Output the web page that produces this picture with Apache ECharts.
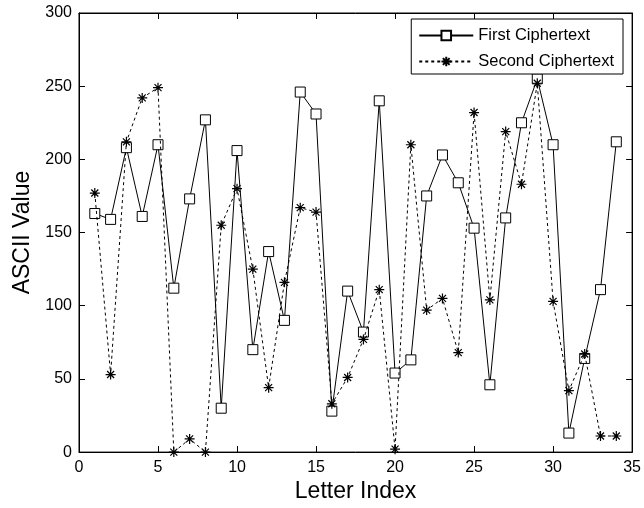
<!DOCTYPE html>
<html>
<head>
<meta charset="utf-8">
<script src="https://cdn.jsdelivr.net/npm/echarts@6/dist/echarts.min.js"></script>
<style>
html,body{margin:0;padding:0;background:#fff;}
#chart{width:644px;height:508px;}
</style>
</head>
<body>
<div id="chart"></div>
<script>
// letter positions 1..34
var letterIndex = [1,2,3,4,5,6,7,8,9,10,11,12,13,14,15,16,17,18,19,20,21,22,23,24,25,26,27,28,29,30,31,32,33,34];
var firstCipher = [163,159,208,161,210,112,173,227,30,206,70,137,90,246,231,28,110,82,240,54,63,175,203,184,153,46,160,225,255,210,13,64,111,212];
var secondCipher = [177,53,212,242,249,0,9,0,155,180,125,44,116,167,164,33,51,77,111,2,210,97,105,68,232,104,219,183,252,103,42,67,11,11];

function pairs(vals){
    return letterIndex.map(function(x,i){ return [x, vals[i]]; });
}

var star = 'path://M0,-1L0,1M-1,0L1,0M-0.7,-0.7L0.7,0.7M-0.7,0.7L0.7,-0.7';
var fontFam = '"Liberation Sans", Arial, sans-serif';
var tickFont = '"Liberation Sans Narrow", "Liberation Sans", Arial, sans-serif';

var chart = echarts.init(document.getElementById('chart'));
var option = {
    animation:false,
    backgroundColor:'#fff',
    textStyle:{fontFamily:fontFam},
    grid:{left:79,right:10,top:13,bottom:54,show:true,borderColor:'#000',borderWidth:1,backgroundColor:'transparent'},
    legend:{
        right:21, top:19,
        orient:'vertical',
        backgroundColor:'#fff',
        borderColor:'#000',
        borderWidth:1,
        borderRadius:0,
        padding:[8,9,4,7],
        itemGap:9,
        itemWidth:54,
        itemHeight:12,
        textStyle:{fontSize:16.5,lineHeight:16,color:'#000',fontFamily:fontFam},
        data:['First Ciphertext','Second Ciphertext']
    },
    xAxis:[{
        type:'value', min:0, max:35, interval:5,
        name:'Letter Index', nameLocation:'middle', nameGap:24,
        nameTextStyle:{fontSize:23,color:'#000'},
        axisLine:{onZero:false,lineStyle:{color:'#000',width:1}},
        axisTick:{inside:true,length:6,lineStyle:{color:'#000'}},
        axisLabel:{fontSize:16,color:'#000',margin:7,fontFamily:tickFont},
        splitLine:{show:false}
    },{
        type:'value', min:0, max:35, interval:5, position:'top',
        axisLine:{show:true,onZero:false,lineStyle:{color:'#000'}},
        axisTick:{show:true,inside:true,length:6,lineStyle:{color:'#000'}},
        axisLabel:{show:false},
        splitLine:{show:false}
    }],
    yAxis:[{
        type:'value', min:0, max:300, interval:50,
        name:'ASCII Value', nameLocation:'middle', nameGap:45,
        nameTextStyle:{fontSize:23,color:'#000'},
        axisLine:{show:true,onZero:false,lineStyle:{color:'#000',width:1}},
        axisTick:{show:true,inside:true,length:6,lineStyle:{color:'#000'}},
        axisLabel:{fontSize:16,color:'#000',margin:7,fontFamily:tickFont},
        splitLine:{show:false}
    },{
        type:'value', min:0, max:300, interval:50, position:'right',
        axisLine:{show:true,onZero:false,lineStyle:{color:'#000'}},
        axisTick:{show:true,inside:true,length:6,lineStyle:{color:'#000'}},
        axisLabel:{show:false},
        splitLine:{show:false}
    }],
    series:[{
        name:'First Ciphertext',
        type:'line',
        data:pairs(firstCipher),
        symbol:'rect',
        symbolSize:10,
        showAllSymbol:true,
        clip:false,
        z:3,
        lineStyle:{color:'#000',width:1},
        itemStyle:{color:'#fff',borderColor:'#000',borderWidth:1}
    },{
        name:'Second Ciphertext',
        type:'line',
        data:pairs(secondCipher),
        symbol:star,
        symbolSize:10,
        showAllSymbol:true,
        clip:false,
        z:4,
        lineStyle:{color:'#000',width:1,type:[3,3]},
        itemStyle:{color:'#000',borderColor:'#000',borderWidth:1.2}
    },{
        // keeps the mirror axes on top and right active
        name:'frame',
        type:'line',
        xAxisIndex:1,
        yAxisIndex:1,
        data:[],
        silent:true
    }]
};
chart.setOption(option);
</script>
</body>
</html>
